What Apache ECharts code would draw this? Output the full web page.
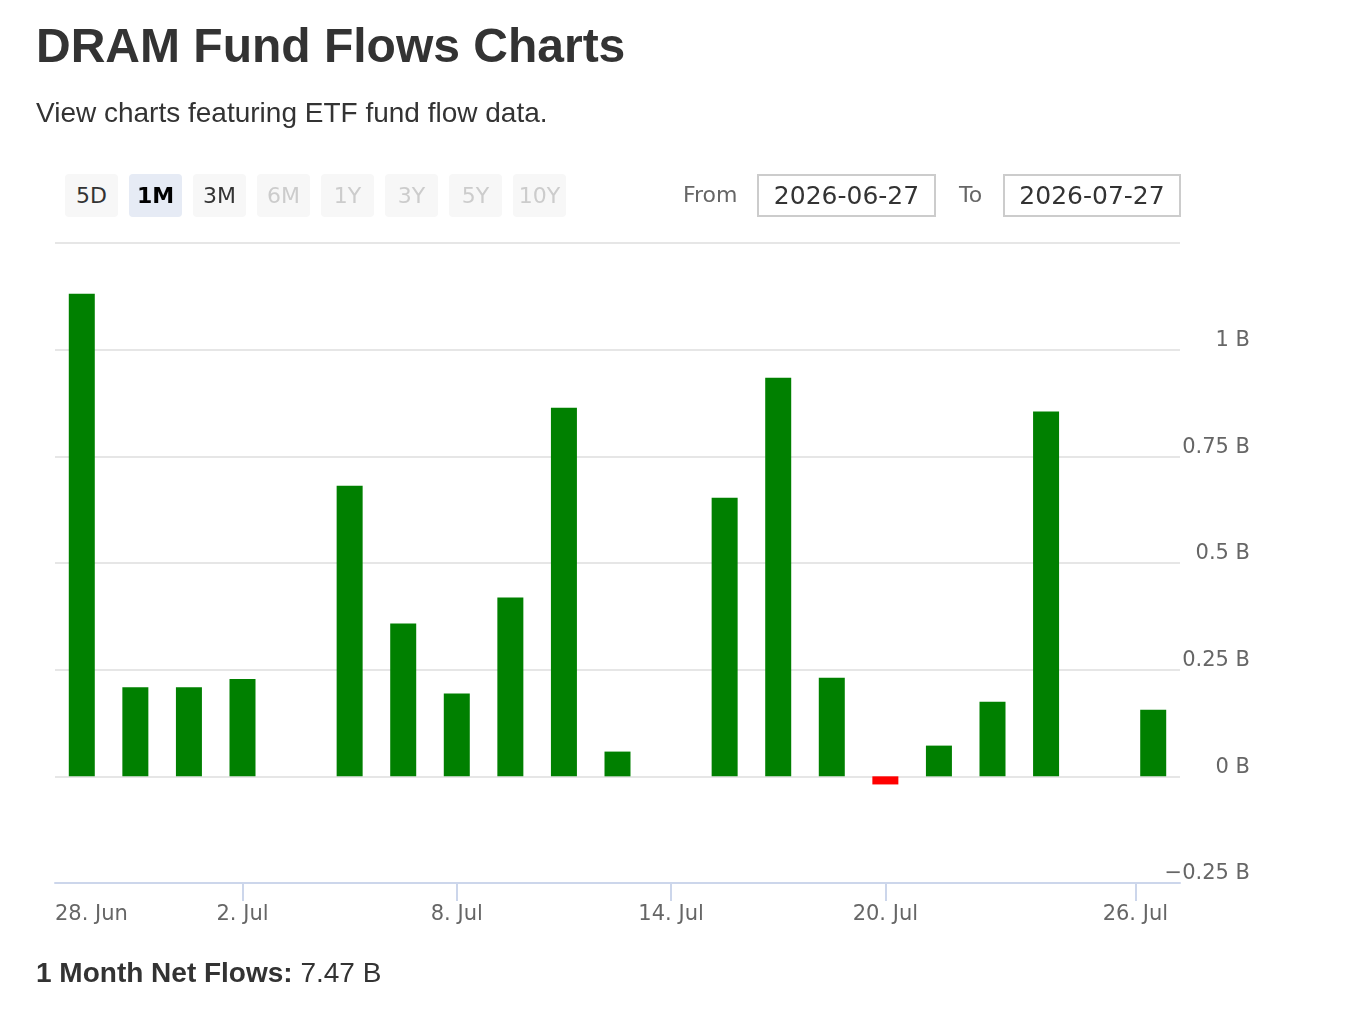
<!DOCTYPE html>
<html>
<head>
<meta charset="utf-8">
<title>DRAM Fund Flows Charts</title>
<script src="https://cdn.jsdelivr.net/npm/echarts@6/dist/echarts.min.js"></script>
<style>
  html, body { margin: 0; padding: 0; background: #fff; }
  body { width: 1354px; height: 1012px; position: relative; overflow: hidden; font-family: "Liberation Sans", Arial, sans-serif; color: #333; }
  #chart { position: absolute; left: 0; top: 0; width: 1354px; height: 1012px; }
  .abs { position: absolute; white-space: nowrap; }
  h1 { margin: 0; left: 36px; top: 22px; font-size: 48px; line-height: 48px; font-weight: bold; color: #333; }
  .sub { left: 36px; top: 99px; font-size: 28px; line-height: 28px; color: #333; }
  .btn { top: 174px; width: 53px; height: 43px; line-height: 43px; border-radius: 4px; background: #f7f7f7; text-align: center;
         font-family: "DejaVu Sans", sans-serif; font-size: 22px; color: #333; }
  .btn.on { background: #e6ebf5; color: #000; font-weight: bold; }
  .btn.off { color: #ccc; }
  .lbl { top: 173px; height: 43px; line-height: 43px; font-family: "DejaVu Sans", sans-serif; font-size: 22px; color: #666; }
  .inp { top: 174px; height: 39px; line-height: 39px; border: 2px solid #ccc; text-align: center;
         font-family: "DejaVu Sans", sans-serif; font-size: 25px; color: #333; }
  .net { left: 36px; top: 959px; font-size: 28px; line-height: 28px; color: #333; }
</style>
</head>
<body>
<div id="chart"></div>
<h1 class="abs">DRAM Fund Flows Charts</h1>
<div class="abs sub">View charts featuring ETF fund flow data.</div>
<div id="ranges"></div>
<div class="abs lbl" style="left:683px">From</div>
<div class="abs inp" style="left:757px;width:175px">2026-06-27</div>
<div class="abs lbl" style="left:959px">To</div>
<div class="abs inp" style="left:1003px;width:174px">2026-07-27</div>
<div class="abs net"><b>1 Month Net Flows:</b> 7.47 B</div>

<script>
// trading days shown on the ordinal axis (weekends / holiday skipped)
const days = [
  '2026-06-29', '2026-06-30', '2026-07-01', '2026-07-02', '2026-07-03',
  '2026-07-06', '2026-07-07', '2026-07-08', '2026-07-09', '2026-07-10',
  '2026-07-13', '2026-07-14', '2026-07-15', '2026-07-16', '2026-07-17',
  '2026-07-20', '2026-07-21', '2026-07-22', '2026-07-23', '2026-07-24',
  '2026-07-27'
]
// net flows, billions
const flows = [
  1.131, 0.209, 0.209, 0.228, 0,
  0.681, 0.358, 0.194, 0.419, 0.864,
  0.058, 0, 0.653, 0.934, 0.231,
  -0.019, 0.072, 0.175, 0.855, 0,
  0.156
]
const tickDates = ['2026-06-28', '2026-07-02', '2026-07-08', '2026-07-14', '2026-07-20', '2026-07-26']
const tickLabels = ['28. Jun', '2. Jul', '8. Jul', '14. Jul', '20. Jul', '26. Jul']
const yTicks = [-0.25, 0, 0.25, 0.5, 0.75, 1, 1.25]
const ranges = ['5D', '1M', '3M', '6M', '1Y', '3Y', '5Y', '10Y']
const activeRange = '1M'
const disabledRanges = ['6M', '1Y', '3Y', '5Y', '10Y']

// range buttons
const rangeBox = document.getElementById('ranges')
ranges.forEach((r, i) => {
  const b = document.createElement('div')
  b.className = 'abs btn' + (r === activeRange ? ' on' : '') + (disabledRanges.includes(r) ? ' off' : '')
  b.style.left = (65 + i * 64) + 'px'
  b.textContent = r
  rangeBox.appendChild(b)
})

const DAY = 86400000
const ts = days.map(d => Date.parse(d + 'T00:00:00Z'))
const X_MIN = -0.5
const X_MAX = days.length - 0.5

// position of a calendar date on the ordinal (index) axis
function ordinalPos(date) {
  const t = Date.parse(date + 'T00:00:00Z')
  if (t <= ts[0]) return (t - ts[0]) / (3 * DAY)
  for (let i = 0; i < ts.length - 1; i++) {
    if (t <= ts[i + 1]) return i + (t - ts[i]) / (ts[i + 1] - ts[i])
  }
  return ts.length - 1 + (t - ts[ts.length - 1]) / (3 * DAY)
}

const tickPos = tickDates.map(ordinalPos)
// ticks only inside the data range; first label justified to the plot edge
const tickVals = tickPos.filter(p => p >= 0)
const labelPos = tickPos.map((p, i) => (i === 0 && p < 0 ? X_MIN : p))

function fmtY(v) {
  if (v === 0) return '0 B'
  return (v < 0 ? '\u2212' : '') + String(Math.abs(v)) + ' B'
}

const chart = echarts.init(document.getElementById('chart'))
chart.setOption({
  animation: false,
  grid: { left: 55, top: 243, width: 1125, height: 640 },
  xAxis: {
    type: 'value',
    min: X_MIN,
    max: X_MAX,
    splitLine: { show: false },
    axisLine: { onZero: false, lineStyle: { color: '#ccd6eb', width: 2 } },
    axisTick: { customValues: tickVals, length: 18, lineStyle: { color: '#ccd6eb', width: 2 } },
    axisLabel: {
      customValues: labelPos,
      alignMinLabel: 'left',
      margin: 21,
      fontSize: 21,
      fontFamily: 'DejaVu Sans',
      color: '#666',
      formatter: (v) => {
        const i = labelPos.findIndex(p => Math.abs(p - v) < 1e-6)
        return i >= 0 ? tickLabels[i] : ''
      },
    },
  },
  yAxis: {
    type: 'value',
    position: 'right',
    min: yTicks[0],
    max: yTicks[yTicks.length - 1],
    interval: 0.25,
    axisLine: { show: false },
    axisTick: { show: false },
    splitLine: { lineStyle: { color: '#e6e6e6', width: 2 } },
    axisLabel: {
      showMaxLabel: false,
      align: 'right',
      verticalAlign: 'bottom',
      margin: 70,
      lineHeight: 18,
      fontSize: 21,
      fontFamily: 'DejaVu Sans',
      color: '#666',
      formatter: fmtY,
    },
  },
  series: [{
    type: 'bar',
    barWidth: 26,
    data: flows.map((v, i) => [i, v]),
    itemStyle: { color: (p) => (p.value[1] < 0 ? '#ff0000' : '#008000') },
  }],
})
</script>
</body>
</html>
